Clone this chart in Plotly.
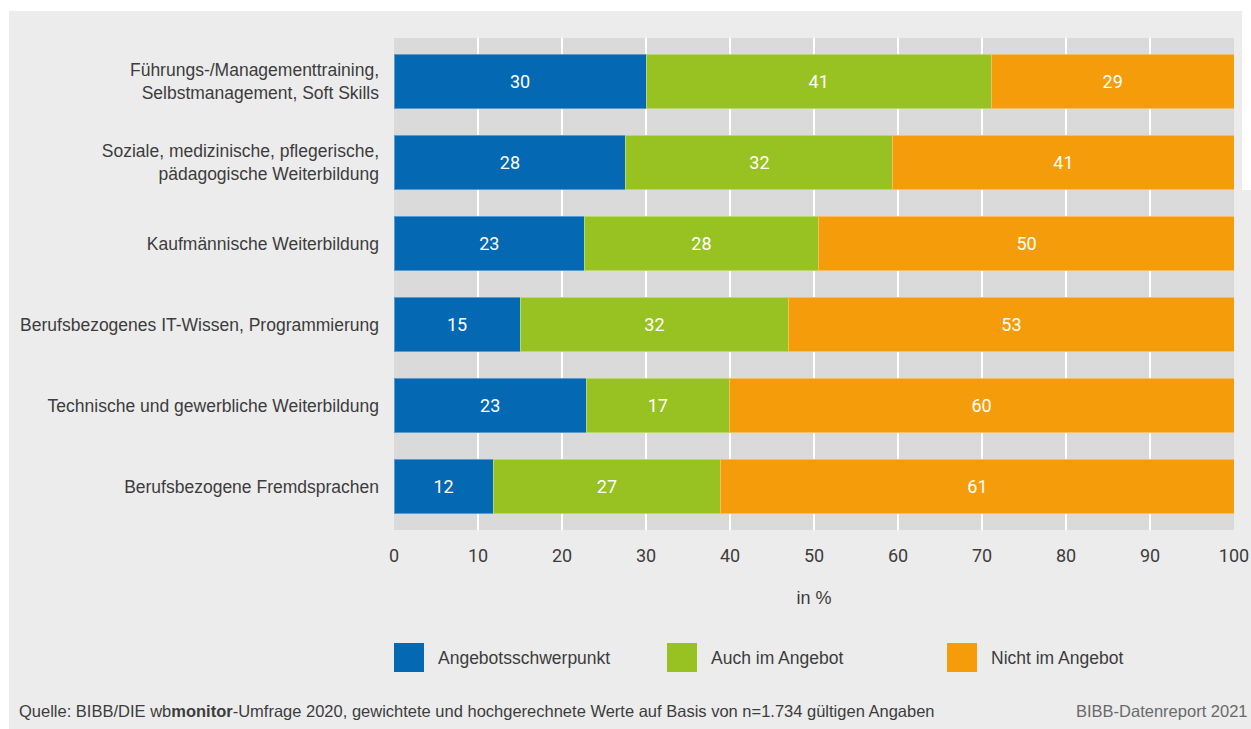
import plotly.graph_objects as go

categories = [
    "Führungs-/Managementtraining,<br>Selbstmanagement, Soft Skills",
    "Soziale, medizinische, pflegerische,<br>pädagogische Weiterbildung",
    "Kaufmännische Weiterbildung",
    "Berufsbezogenes IT-Wissen, Programmierung",
    "Technische und gewerbliche Weiterbildung",
    "Berufsbezogene Fremdsprachen",
]
series_names = ["Angebotsschwerpunkt", "Auch im Angebot", "Nicht im Angebot"]
schwerpunkt = [30.0, 27.6, 22.7, 15.0, 22.9, 11.8]
auch = [41.1, 31.8, 27.8, 32.0, 17.0, 27.1]
nicht = [28.9, 40.6, 49.6, 53.0, 60.1, 61.1]
labels_schwerpunkt = [30, 28, 23, 15, 23, 12]
labels_auch = [41, 32, 28, 32, 17, 27]
labels_nicht = [29, 41, 50, 53, 60, 61]
x_ticks = [0, 10, 20, 30, 40, 50, 60, 70, 80, 90, 100]
x_title = "in %"
source = ("Quelle: BIBB/DIE wb<b>monitor</b>-Umfrage 2020, gewichtete und hochgerechnete "
          "Werte auf Basis von n=1.734 gültigen Angaben")
report = "BIBB-Datenreport 2021"

colors = ["#0568b3", "#97c222", "#f59c0a"]
edge = ["#5c9bd0", "#b9d86a", "#f7bd63"]
TEXTF = "Liberation Sans, Arial, sans-serif"
NUM = "Roboto, Liberation Sans, sans-serif"
TXT = "#3c3c3c"

fig = go.Figure()
for name, vals, labs, c, e in zip(series_names,
                                  [schwerpunkt, auch, nicht],
                                  [labels_schwerpunkt, labels_auch, labels_nicht],
                                  colors, edge):
    fig.add_trace(go.Bar(
        y=categories, x=vals, name=name, orientation="h",
        marker=dict(color=c, line=dict(color=e, width=1)),
        text=[str(v) for v in labs], textposition="inside",
        insidetextanchor="middle",
        textfont=dict(color="white", size=18, family=NUM),
        showlegend=False, hoverinfo="skip",
    ))

fig.update_layout(
    barmode="stack", bargap=0.335,
    width=1251, height=729, autosize=False,
    margin=dict(l=394, r=17, t=38, b=199, autoexpand=False),
    paper_bgcolor="#ececec", plot_bgcolor="#dadada",
    font=dict(family=TEXTF, color=TXT, size=17),
    xaxis=dict(range=[0, 100], tickvals=x_ticks, showgrid=True, automargin=False,
               gridcolor="white", gridwidth=2, zeroline=False,
               tickfont=dict(size=18, color=TXT, family=NUM), ticklabelstandoff=13,
               title=dict(text=x_title, font=dict(size=18, color=TXT, family=TEXTF), standoff=26)),
    yaxis=dict(range=[5.53, -0.53], showgrid=False, zeroline=False, automargin=False,
               tickfont=dict(size=17.5, color=TXT, family=TEXTF), ticklabelstandoff=14),
    uniformtext=dict(mode="show", minsize=10),
)

shapes = []
# white frame strips
shapes.append(dict(type="rect", xref="paper", yref="paper", x0=-394/840, x1=(1251-394)/840,
                   y0=1 + 27/492, y1=1 + 38/492, fillcolor="white", line_width=0, layer="below"))
shapes.append(dict(type="rect", xref="paper", yref="paper", x0=-394/840, x1=-385/840,
                   y0=-199/492, y1=1 + 38/492, fillcolor="white", line_width=0, layer="below"))
shapes.append(dict(type="rect", xref="paper", yref="paper", x0=(1242-394)/840, x1=(1251-394)/840,
                   y0=1 - (190-38)/492, y1=1 + 38/492, fillcolor="white", line_width=0, layer="below"))

def px_x(x):
    return (x - 394) / 840

def px_y(y):
    return 1 - (y - 38) / 492

annotations = []
leg_x = [394, 667, 947]
for name, c, lx in zip(series_names, colors, leg_x):
    shapes.append(dict(type="rect", xref="paper", yref="paper",
                       x0=px_x(lx), x1=px_x(lx + 30), y0=px_y(672), y1=px_y(643),
                       fillcolor=c, line_width=0))
    annotations.append(dict(xref="paper", yref="paper", x=px_x(lx + 42), y=px_y(658),
                            text=name, showarrow=False, xanchor="left", yanchor="middle",
                            font=dict(size=17.5, color=TXT, family=TEXTF)))
annotations.append(dict(xref="paper", yref="paper", x=px_x(17), y=px_y(711),
                        text=source, showarrow=False, xanchor="left", yanchor="middle",
                        font=dict(size=16.5, color=TXT, family=TEXTF)))
annotations.append(dict(xref="paper", yref="paper", x=px_x(1250), y=px_y(711),
                        text=report, showarrow=False, xanchor="right", yanchor="middle",
                        font=dict(size=16.5, color="#6a6a6a", family=TEXTF)))

fig.update_layout(shapes=shapes, annotations=annotations)
fig.write_html("out.html", config={"displayModeBar": False, "responsive": False},
               post_script="document.body.style.margin='0';document.body.style.overflow='hidden';")
